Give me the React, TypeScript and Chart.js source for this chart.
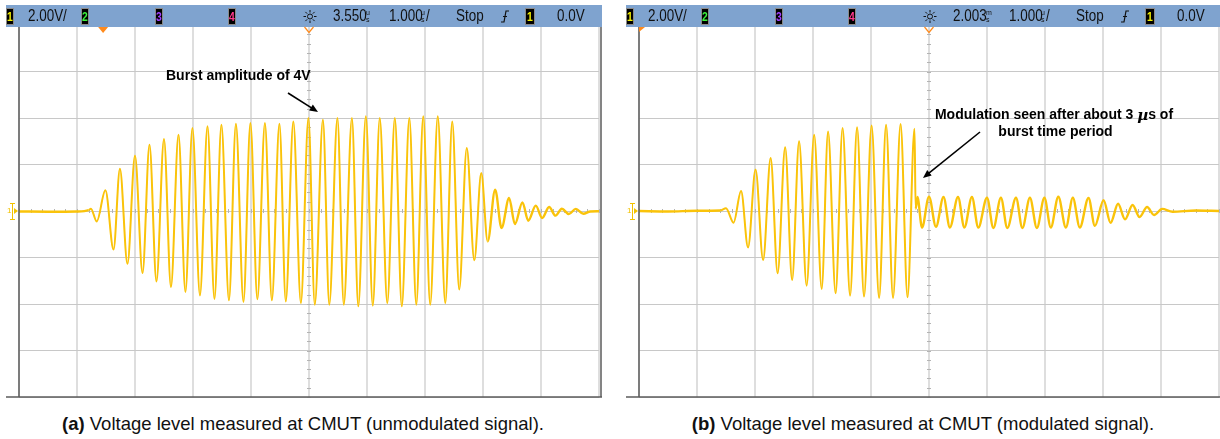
import React, { useEffect, useRef } from "react";
import { Chart, registerables } from "chart.js";

Chart.register(...registerables);

// ---------------- data ----------------
// time in µs measured from the screen centre, voltage in V (2 V/div, 1 µs/div)
const TIME_A = [
  -5.0, -4.5, -4.0, -3.8, -3.76, -3.66, -3.51, -3.37, -3.26, -3.13, -3.0, -2.87, -2.75, -2.63,
  -2.5, -2.38, -2.25, -2.13, -2.01, -1.88, -1.75, -1.63, -1.51, -1.38, -1.26, -1.13, -1.01,
  -0.89, -0.76, -0.64, -0.51, -0.4, -0.27, -0.14, -0.01, 0.1, 0.24, 0.35, 0.49, 0.6, 0.74, 0.85,
  0.98, 1.1, 1.22, 1.35, 1.48, 1.6, 1.73, 1.85, 1.97, 2.09, 2.22, 2.35, 2.47, 2.59, 2.72, 2.85,
  2.97, 3.08, 3.21, 3.32, 3.45, 3.55, 3.68, 3.78, 3.91, 4.02, 4.14, 4.25, 4.36, 4.48, 4.6, 4.73,
  4.85, 5.0,
];
const VOLT_A = [
  -0.02, -0.03, -0.02, 0.04, 0.1, -0.45, 0.89, -1.66, 1.82, -2.27, 2.38, -2.67, 2.85, -3.03,
  3.1, -3.27, 3.28, -3.48, 3.57, -3.63, 3.64, -3.78, 3.71, -3.84, 3.75, -3.91, 3.78,
  -3.8, 3.78, -3.84, 3.75, -3.89, 3.85, -3.96, 4.0, -4.03, 3.93, -4.03, 4.0, -4.03, 4.0, -4.1,
  4.07, -4.07, 4.0, -3.96, 4.0, -4.1, 4.0, -4.03, 4.07, -4.03, 4.07, -3.96, 3.85, -3.38, 2.71, -2.12,
  1.63, -1.31, 0.92, -0.73, 0.56, -0.56, 0.37, -0.42, 0.23, -0.3, 0.17, -0.2, 0.1, -0.13, 0.09, -0.12,
  -0.02, -0.01,
];

const TIME_B = [
  -5.0, -4.5, -4.0, -3.6, -3.5, -3.37, -3.24, -3.12, -2.99, -2.86, -2.73, -2.61, -2.48, -2.36,
  -2.24, -2.11, -1.98, -1.85, -1.74, -1.61, -1.49, -1.36, -1.24, -1.12, -0.99, -0.86, -0.74,
  -0.62, -0.49, -0.37, -0.25, -0.23, -0.2, -0.12, 0.0, 0.12, 0.25, 0.36, 0.5, 0.61, 0.74, 0.85,
  1.0, 1.11, 1.24, 1.35, 1.5, 1.61, 1.74, 1.86, 1.99, 2.1, 2.23, 2.36, 2.48, 2.6, 2.75, 2.86,
  3.01, 3.13, 3.26, 3.38, 3.51, 3.63, 3.76, 3.88, 4.02, 4.2, 4.6, 5.0,
];
const VOLT_B = [
  0.0, -0.02, 0.01, 0.02, 0.12, -0.5, 0.86, -1.57, 1.78, -2.11, 2.28, -2.68, 2.74, -2.97,
  3.0, -3.21, 3.28, -3.35, 3.42, -3.54, 3.57, -3.64, 3.6, -3.68, 3.68, -3.74, 3.71,
  -3.74, 3.74, -3.71, 3.54, 0.09, 0.6, -0.71, 0.62, -0.68, 0.6, -0.71, 0.6, -0.71, 0.6, -0.71,
  0.57, -0.73, 0.57, -0.73, 0.57, -0.73, 0.57, -0.73, 0.57, -0.71, 0.61, -0.71, 0.57, -0.71, 0.56, -0.64,
  0.46, -0.51, 0.31, -0.36, 0.26, -0.26, 0.17, -0.17, 0.09, -0.03, 0.02, 0.0,
];

// header readouts
const CH1_SCALE = "2.00V/";
const DELAY_A = "3.550";
const DELAY_A_UNIT = ["u", "s"];
const DELAY_B = "2.003";
const DELAY_B_UNIT = ["m", "s"];
const TIMEBASE = "1.000";
const RUN_STATE = "Stop";
const TRIG_LEVEL = "0.0V";

const CAPTION_A_TAG = "(a)";
const CAPTION_A = " Voltage level measured at CMUT (unmodulated signal).";
const CAPTION_B_TAG = "(b)";
const CAPTION_B = " Voltage level measured at CMUT (modulated signal).";

const NOTE_A = ["Burst amplitude of 4V"];
const NOTE_B = ["Modulation seen after about 3 ", "µ", "s of", "burst time period"];

// -----------------------------------------------------------------
const TRACE = "rgb(250, 195, 10)";
const TRACE_PALE = "rgb(255, 238, 170)";
const FONT = '"Liberation Sans", Arial, sans-serif';

type Panel = {
  time: number[];
  volt: number[];
  burst: [number, number];
  delay: string;
  delayUnit: string[];
  trigVisible: boolean;
  trigOffset: number;
  note: (ctx: CanvasRenderingContext2D) => void;
};

function arrow(ctx: CanvasRenderingContext2D, x0: number, y0: number, x1: number, y1: number) {
  const ang = Math.atan2(y1 - y0, x1 - x0);
  const len = 9;
  ctx.strokeStyle = "#000";
  ctx.fillStyle = "#000";
  ctx.lineWidth = 1.6;
  ctx.beginPath();
  ctx.moveTo(x0, y0);
  ctx.lineTo(x1 - Math.cos(ang) * len * 0.8, y1 - Math.sin(ang) * len * 0.8);
  ctx.stroke();
  ctx.beginPath();
  ctx.moveTo(x1, y1);
  ctx.lineTo(x1 - len * Math.cos(ang - 0.4), y1 - len * Math.sin(ang - 0.4));
  ctx.lineTo(x1 - len * Math.cos(ang + 0.4), y1 - len * Math.sin(ang + 0.4));
  ctx.closePath();
  ctx.fill();
}

function noteA(ctx: CanvasRenderingContext2D) {
  ctx.font = `bold 14px ${FONT}`;
  ctx.fillStyle = "#000";
  ctx.textAlign = "left";
  ctx.textBaseline = "middle";
  ctx.fillText(NOTE_A[0], 166, 76);
  arrow(ctx, 288, 93, 318, 112);
}

function noteB(ctx: CanvasRenderingContext2D) {
  ctx.fillStyle = "#000";
  ctx.textBaseline = "middle";
  ctx.textAlign = "left";
  const bold = `bold 14px ${FONT}`;
  const ital = `bold italic 15px "DejaVu Serif", serif`;
  ctx.font = bold;
  const w1 = ctx.measureText(NOTE_B[0]).width;
  const w3 = ctx.measureText(NOTE_B[2]).width;
  ctx.font = ital;
  const w2 = ctx.measureText(NOTE_B[1]).width;
  const total = w1 + w2 + w3;
  let x = 434 - total / 2;
  ctx.font = bold;
  ctx.fillText(NOTE_B[0], x, 115);
  x += w1;
  ctx.font = ital;
  ctx.fillText(NOTE_B[1], x, 116);
  x += w2;
  ctx.font = bold;
  ctx.fillText(NOTE_B[2], x, 115);
  ctx.textAlign = "center";
  ctx.fillText(NOTE_B[3], 435.5, 132);
  arrow(ctx, 360, 132, 303, 178);
}

function condensedText(ctx: CanvasRenderingContext2D, s: string, x: number, y: number, sx = 0.84) {
  ctx.save();
  ctx.translate(x, y);
  ctx.scale(sx, 1);
  ctx.fillText(s, 0, 0);
  ctx.restore();
}

function drawHeader(ctx: CanvasRenderingContext2D, p: Panel) {
  ctx.save();
  ctx.fillStyle = "#7fa3cf";
  ctx.fillRect(6, 5, 596, 22);
  const cy = 16.5;
  const box = (x: number, digit: string, color: string, w = 8) => {
    ctx.fillStyle = "#000";
    ctx.fillRect(x, 8, w, 17);
    ctx.strokeStyle = "#8a8a8a";
    ctx.lineWidth = 1;
    ctx.strokeRect(x + 0.5, 8.5, w - 1, 16);
    ctx.fillStyle = color;
    ctx.font = `bold 13px ${FONT}`;
    ctx.textAlign = "center";
    ctx.textBaseline = "middle";
    condensedText(ctx, digit, x + w / 2, cy + 0.5, 0.8);
  };
  box(6, "1", "#f4f000");
  box(81, "2", "#3cf03c");
  box(155, "3", "#a040ff");
  box(228, "4", "#ff3a8c");
  box(525, "1", "#f4f000", 10);

  ctx.fillStyle = "#111";
  ctx.font = `16px ${FONT}`;
  ctx.textAlign = "left";
  ctx.textBaseline = "middle";
  condensedText(ctx, CH1_SCALE, 28, cy);
  condensedText(ctx, p.delay, 333, cy);
  condensedText(ctx, TIMEBASE, 389, cy);
  condensedText(ctx, RUN_STATE, 456, cy);
  condensedText(ctx, TRIG_LEVEL, 557, cy);
  condensedText(ctx, "/", 426, cy);
  ctx.font = `7px ${FONT}`;
  ctx.fillText(p.delayUnit[0], 366, 13);
  ctx.fillText(p.delayUnit[1], 366, 20);
  ctx.fillText("u", 421, 13);
  ctx.fillText("s", 421, 20);
  // trigger edge symbol
  ctx.strokeStyle = "#111";
  ctx.lineWidth = 1.2;
  ctx.beginPath();
  ctx.moveTo(501, 22);
  ctx.lineTo(504, 22);
  ctx.lineTo(506, 11);
  ctx.lineTo(509, 11);
  ctx.moveTo(503, 16.5);
  ctx.lineTo(507, 16.5);
  ctx.stroke();
  // acquisition sun icon
  const sx = 310, sy = cy;
  ctx.lineWidth = 1;
  ctx.beginPath();
  ctx.arc(sx, sy, 2.5, 0, Math.PI * 2);
  ctx.stroke();
  for (let k = 0; k < 8; k++) {
    const a = (k * Math.PI) / 4;
    ctx.beginPath();
    ctx.moveTo(sx + Math.cos(a) * 4, sy + Math.sin(a) * 4);
    ctx.lineTo(sx + Math.cos(a) * 6.5, sy + Math.sin(a) * 6.5);
    ctx.stroke();
  }
  ctx.restore();
}

function makePlugin(p: Panel) {
  return {
    id: "scope",
    beforeDatasetsDraw(chart: any) {
      const { ctx, scales } = chart;
      const xs = scales.x, ys = scales.y;
      const xc = xs.getPixelForValue(0);
      const yc = ys.getPixelForValue(0);
      ctx.save();
      ctx.strokeStyle = "#b4b4b4";
      ctx.lineWidth = 1;
      for (let k = -25; k <= 25; k++) {
        const x = Math.round(xs.getPixelForValue(k * 0.2)) + 0.5;
        ctx.beginPath();
        ctx.moveTo(x, yc - 2);
        ctx.lineTo(x, yc + 2);
        ctx.stroke();
      }
      for (let k = -20; k <= 20; k++) {
        const y = Math.round(ys.getPixelForValue(k * 0.4)) + 0.5;
        ctx.beginPath();
        ctx.moveTo(xc - 2, y);
        ctx.lineTo(xc + 2, y);
        ctx.stroke();
      }
      ctx.restore();
    },
    afterDraw(chart: any) {
      const { ctx, chartArea: a, scales } = chart;
      const xs = scales.x, ys = scales.y;
      ctx.save();
      // frame
      ctx.strokeStyle = "#5c5c5c";
      ctx.lineWidth = 1.5;
      ctx.beginPath();
      ctx.moveTo(a.left, a.top);
      ctx.lineTo(a.left, a.bottom);
      ctx.moveTo(6, a.bottom);
      ctx.lineTo(602, a.bottom);
      ctx.moveTo(601, a.top);
      ctx.lineTo(601, a.bottom);
      ctx.stroke();
      // ground marker
      const y0 = ys.getPixelForValue(0);
      ctx.strokeStyle = "#f2c200";
      ctx.fillStyle = "#f2c200";
      ctx.lineWidth = 1;
      ctx.beginPath();
      ctx.moveTo(12.5, y0 - 7);
      ctx.lineTo(12.5, y0 + 8);
      ctx.moveTo(10, y0 - 7.5);
      ctx.lineTo(15, y0 - 7.5);
      ctx.moveTo(10, y0 + 8.5);
      ctx.lineTo(15, y0 + 8.5);
      ctx.stroke();
      ctx.beginPath();
      ctx.moveTo(14, y0 - 3);
      ctx.lineTo(18, y0);
      ctx.lineTo(14, y0 + 3);
      ctx.closePath();
      ctx.fill();
      ctx.font = `8px ${FONT}`;
      ctx.textAlign = "left";
      ctx.textBaseline = "middle";
      ctx.fillText("1", 7, y0);
      ctx.restore();

      ctx.save();
      drawHeader(ctx, p);
      // trigger markers
      ctx.fillStyle = "#ff8a1c";
      ctx.strokeStyle = "#ff8a1c";
      ctx.lineWidth = 1.2;
      if (p.trigVisible) {
        const xt = xs.getPixelForValue(p.trigOffset);
        ctx.beginPath();
        ctx.moveTo(xt - 5, 27);
        ctx.lineTo(xt + 5, 27);
        ctx.lineTo(xt, 33);
        ctx.closePath();
        ctx.fill();
      } else {
        ctx.beginPath();
        ctx.moveTo(a.left, 27);
        ctx.lineTo(a.left + 6, 27);
        ctx.lineTo(a.left, 32);
        ctx.closePath();
        ctx.fill();
      }
      const xc = xs.getPixelForValue(0);
      ctx.beginPath();
      ctx.moveTo(xc - 4.5, 27);
      ctx.lineTo(xc, 32.5);
      ctx.lineTo(xc + 4.5, 27);
      ctx.stroke();
      p.note(ctx);
      ctx.restore();
    },
  };
}

function makeChart(canvas: HTMLCanvasElement, p: Panel, rightPad: number) {
  const pts = p.time.map((t, i) => ({ x: t, y: p.volt[i] }));
  const quiet = (c: any) => c.p1.parsed.x <= p.burst[0] || c.p0.parsed.x >= p.burst[1];
  return new Chart(canvas, {
    type: "line",
    data: {
      datasets: [
        {
          data: pts,
          borderColor: TRACE,
          borderWidth: 2,
          pointRadius: 0,
          cubicInterpolationMode: "monotone",
          segment: { borderWidth: (c: any) => (quiet(c) ? 2.4 : 2.0) },
        } as any,
        {
          data: pts,
          borderColor: TRACE_PALE,
          borderWidth: 0.8,
          pointRadius: 0,
          cubicInterpolationMode: "monotone",
          segment: { borderColor: (c: any) => (quiet(c) ? "rgba(0,0,0,0)" : TRACE_PALE) },
        } as any,
      ],
    },
    options: {
      animation: false,
      responsive: false,
      maintainAspectRatio: false,
      devicePixelRatio: 1,
      layout: { padding: { left: 19, right: rightPad, top: 25, bottom: 3 } },
      plugins: { legend: { display: false }, tooltip: { enabled: false } },
      events: [],
      scales: {
        x: {
          type: "linear",
          min: -5,
          max: 5,
          ticks: { display: false, stepSize: 1 },
          grid: { color: "#dedede", lineWidth: 2, drawTicks: false, tickLength: 0 },
          border: { display: false },
        },
        y: {
          type: "linear",
          min: -8,
          max: 8,
          ticks: { display: false, stepSize: 2 },
          grid: { color: "#c8c8c8", lineWidth: 1, drawTicks: false, tickLength: 0 },
          border: { display: false },
        },
      },
    },
    plugins: [makePlugin(p)],
  } as any);
}

const PANEL_A: Panel = {
  time: TIME_A,
  volt: VOLT_A,
  burst: [-3.8, 3.0],
  delay: DELAY_A,
  delayUnit: DELAY_A_UNIT,
  trigVisible: true,
  trigOffset: -3.55,
  note: noteA,
};
const PANEL_B: Panel = {
  time: TIME_B,
  volt: VOLT_B,
  burst: [-3.6, -0.23],
  delay: DELAY_B,
  delayUnit: DELAY_B_UNIT,
  trigVisible: false,
  trigOffset: 0,
  note: noteB,
};

export default function App() {
  const refA = useRef<HTMLCanvasElement>(null);
  const refB = useRef<HTMLCanvasElement>(null);
  useEffect(() => {
    const a = makeChart(refA.current as HTMLCanvasElement, PANEL_A, 11);
    const b = makeChart(refB.current as HTMLCanvasElement, PANEL_B, 1);
    return () => {
      a.destroy();
      b.destroy();
    };
  }, []);
  const cap: React.CSSProperties = {
    position: "absolute",
    top: 414,
    textAlign: "center",
    font: `18.5px ${FONT}`,
    color: "#111",
    lineHeight: "20px",
    whiteSpace: "nowrap",
  };
  return (
    <div
      style={{
        position: "fixed",
        left: 0,
        top: 0,
        width: 1220,
        height: 439,
        background: "#fff",
        overflow: "hidden",
      }}
    >
      <canvas ref={refA} width={610} height={400} style={{ position: "absolute", left: 0, top: 0 }} />
      <canvas ref={refB} width={600} height={400} style={{ position: "absolute", left: 620, top: 0 }} />
      <div style={{ ...cap, left: -2, width: 610 }}>
        <b>{CAPTION_A_TAG}</b>
        {CAPTION_A}
      </div>
      <div style={{ ...cap, left: 623, width: 600 }}>
        <b>{CAPTION_B_TAG}</b>
        {CAPTION_B}
      </div>
    </div>
  );
}
